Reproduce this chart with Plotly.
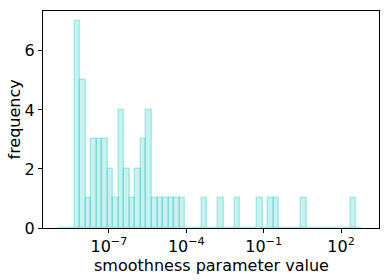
import numpy as np
import plotly.graph_objects as go

# histogram counts per log-spaced bin (55 bins)
counts = [0, 0, 0,
          7, 5, 1, 3, 3, 3, 2, 1, 4, 2, 1, 2, 3, 4, 1, 1, 1, 1, 1, 1,
          0, 0, 0, 1, 0, 0, 1, 0, 0, 1, 0, 0, 0, 1, 0, 1, 1, 0, 0, 0, 0,
          1, 0, 0, 0, 0, 0, 0, 0, 0, 1, 0]
log10_min = -8.97   # log10 of the smallest bin edge
log10_max = 2.81    # log10 of the largest bin edge
tick_exponents = [-7, -4, -1, 2]
tick_labels = ["10<sup>\u22127</sup>", "10<sup>\u22124</sup>", "10<sup>\u22121</sup>", "10<sup>2</sup>"]
x_title = "smoothness parameter value"
y_title = "frequency"

edges = np.linspace(log10_min, log10_max, len(counts) + 1)
centers = (edges[:-1] + edges[1:]) / 2
widths = np.diff(edges)

fig = go.Figure(go.Bar(
    x=centers, y=counts, width=widths,
    marker=dict(color="rgba(72,209,204,0.3)",
                line=dict(color="rgba(72,209,204,0.4)", width=1.5)),
))

font = dict(family="DejaVu Sans", size=16, color="black")
fig.update_layout(
    width=388, height=280,
    margin=dict(l=43, r=9, t=11, b=52),
    plot_bgcolor="white", paper_bgcolor="white",
    font=font, showlegend=False, bargap=0,
    annotations=[
        dict(text=x_title, xref="paper", yref="paper", x=0.5, y=0,
             xanchor="center", yanchor="middle", yshift=-37, showarrow=False, font=font),
        dict(text=y_title, xref="paper", yref="paper", x=0, y=0.5, textangle=-90,
             xanchor="center", yanchor="middle", xshift=-29, showarrow=False, font=font),
    ],
)
fig.update_xaxes(
    range=[-9.555, 3.47], tickmode="array", tickvals=tick_exponents, ticktext=tick_labels,
    showline=True, linecolor="black", linewidth=1, mirror=True, automargin=False,
    ticks="outside", ticklen=4, tickcolor="black", showgrid=False, zeroline=False,
)
fig.update_yaxes(
    range=[0, 7.35], tickvals=[0, 2, 4, 6],
    showline=True, linecolor="black", linewidth=1, mirror=True, automargin=False,
    ticks="outside", ticklen=4, tickcolor="black", showgrid=False, zeroline=False,
)
fig.write_html("out.html", config={"displayModeBar": False},
               post_script="document.body.style.margin='0';")
